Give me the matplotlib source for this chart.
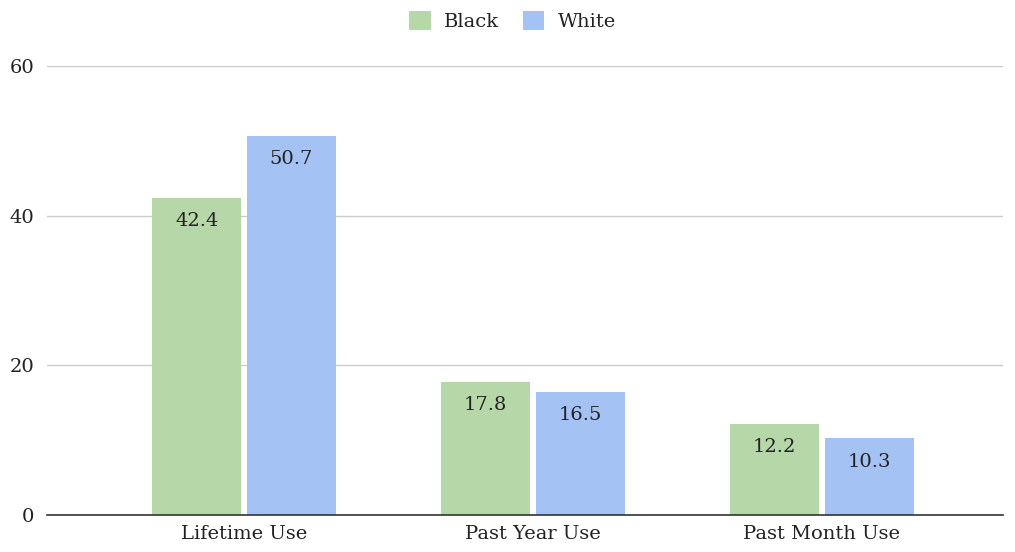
import matplotlib.pyplot as plt
import numpy as np

categories = ["Lifetime Use", "Past Year Use", "Past Month Use"]
black = [42.4, 17.8, 12.2]
white = [50.7, 16.5, 10.3]
series_names = ["Black", "White"]
colors = ["#b6d7a8", "#a4c2f4"]

plt.rcParams['font.family'] = ['DejaVu Serif']

fig = plt.figure(figsize=(10.15, 5.52), dpi=100)
ax = fig.add_axes([0.0463, 0.067, 0.9417, 0.813])

x = np.arange(len(categories))
w = 0.308
off = 0.164
for vals, name, col, sign in zip([black, white], series_names, colors, [-1, 1]):
    ax.bar(x + sign * off, vals, width=w, color=col, label=name, zorder=3)
    for xi, v in zip(x + sign * off, vals):
        ax.annotate(f"{v}", (xi, v), xytext=(0, -17), textcoords="offset points",
                    ha="center", va="center", fontsize=14, color="#222222", zorder=4)

ax.set_ylim(0, 60)
ax.set_xlim(-0.682, 2.626)
ax.set_yticks([0, 20, 40, 60])
ax.set_xticks(x)
ax.set_xticklabels(categories, fontsize=14, color="#222222")
ax.tick_params(axis="y", labelsize=14, labelcolor="#222222", length=0, pad=9)
ax.tick_params(axis="x", length=0, pad=7)
ax.grid(axis="y", color="#cccccc", linewidth=1, zorder=0)
for s in ["top", "right", "left"]:
    ax.spines[s].set_visible(False)
ax.spines["bottom"].set_color("#333333")
ax.spines["bottom"].set_linewidth(1.2)
ax.spines["bottom"].set_zorder(5)

leg = fig.legend(loc="upper center", bbox_to_anchor=(0.505, 1.012), ncol=2, frameon=False,
                 fontsize=14, handlelength=1.1, handleheight=1.1, columnspacing=1.2,
                 handletextpad=0.7)
for t in leg.get_texts():
    t.set_color("#222222")

fig.savefig("out.png", dpi=100)
